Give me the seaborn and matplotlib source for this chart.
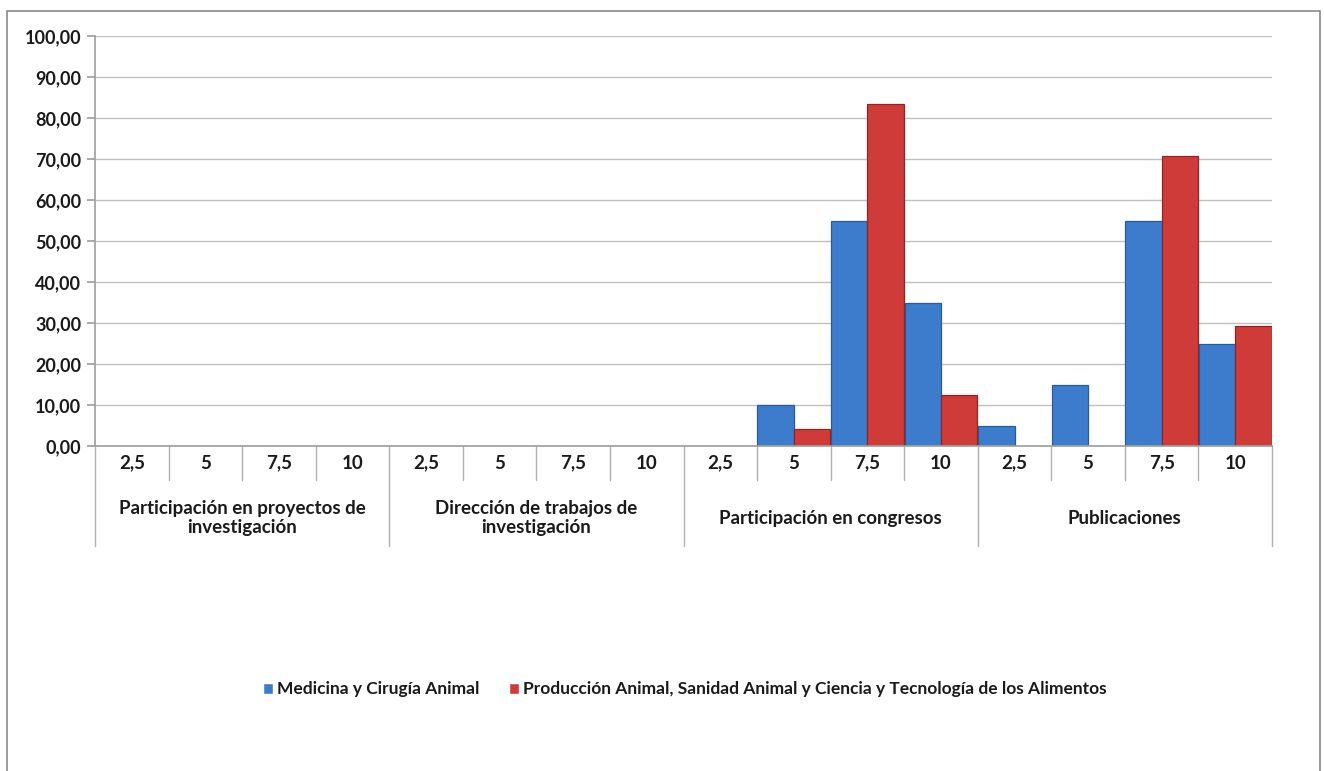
import numpy as np
import pandas as pd
import seaborn as sns
import matplotlib.pyplot as plt
from matplotlib.patches import Rectangle
from matplotlib.transforms import blended_transform_factory

# Data
groups = ["Participación en proyectos de\ninvestigación",
          "Dirección de trabajos de\ninvestigación",
          "Participación en congresos",
          "Publicaciones"]
scores = ["2,5", "5", "7,5", "10"]
series = ["Medicina y Cirugía Animal",
          "Producción Animal, Sanidad Animal y Ciencia y Tecnología de los Alimentos"]
medicina = [0, 0, 0, 0,  0, 0, 0, 0,  0, 10, 55, 35,  5, 15, 55, 25]
produccion = [0, 0, 0, 0,  0, 0, 0, 0,  0, 4.17, 83.33, 12.5,  0, 0, 70.83, 29.17]

slots = [f"{g}|{s}" for g in groups for s in scores]
df = pd.DataFrame({
    "slot": slots * 2,
    "serie": [series[0]] * len(slots) + [series[1]] * len(slots),
    "valor": medicina + produccion,
})

sns.set_theme(style="white")
plt.rcParams["font.family"] = ["Lato", "DejaVu Sans"]
plt.rcParams["font.weight"] = "bold"

fig = plt.figure(figsize=(13.24, 7.71), dpi=100)
ax = fig.add_axes([0.0718, 0.4215, 0.8889, 0.5318])

colors = ["#3d7ccc", "#cf3b39"]
sns.barplot(data=df, x="slot", y="valor", hue="serie", order=slots,
            hue_order=series, palette=colors, width=0.99, gap=0,
            saturation=1, ax=ax, legend=True)
edge = {colors[0]: "#2a5a99", colors[1]: "#8f2624"}
for cont, c in zip(ax.containers, colors):
    for bar in cont:
        bar.set_edgecolor(edge[c])
        bar.set_linewidth(0.9)
        if bar.get_height() == 0:
            bar.set_visible(False)

ax.set_ylim(0, 100)
ax.set_xlim(-0.5, len(slots) - 0.5)
ax.set_yticks(np.arange(0, 101, 10))
ax.set_yticklabels([f"{v:.2f}".replace(".", ",") for v in range(0, 101, 10)],
                   fontsize=13, fontweight="bold", color="#1a1a1a")
ax.yaxis.grid(True, color="#c0c0c0", linewidth=1)
ax.set_axisbelow(True)
ax.tick_params(axis="y", left=True, length=6, color="#a0a0a0", pad=4)
ax.set_xticks([])
ax.set_xlabel("")
ax.set_ylabel("")
for side in ["top", "right"]:
    ax.spines[side].set_visible(False)
for side in ["left", "bottom"]:
    ax.spines[side].set_color("#a0a0a0")

# Two-level category axis
tr = blended_transform_factory(ax.transData, ax.transAxes)
h = 410.0  # axes height in pixels
for i, s in enumerate(slots):
    ax.text(i, -17 / h, s.split("|")[1], transform=tr, ha="center", va="center",
            fontsize=13.5, fontweight="bold", color="#1a1a1a")
for gi, g in enumerate(groups):
    ax.text(gi * 4 + 1.5, -72 / h, g, transform=tr, ha="center", va="center",
            fontsize=13.5, fontweight="bold", color="#1a1a1a", linespacing=1.15)
for k in range(len(slots) + 1):
    x = k - 0.5
    bottom = -100 / h if k % 4 == 0 else -34 / h
    ax.plot([x, x], [0, bottom], transform=tr, color="#b0b0b0",
            linewidth=1, clip_on=False)

leg = ax.legend(loc="center", bbox_to_anchor=(0.517, 0.106),
                bbox_transform=fig.transFigure, ncol=2, frameon=False,
                fontsize=12.5, handlelength=0.6, handleheight=0.6,
                handletextpad=0.2, columnspacing=1.7)
for t in leg.get_texts():
    t.set_fontweight("bold")
    t.set_color("#1a1a1a")

fig.add_artist(Rectangle((0.0053, -0.02), 0.992, 1.006, transform=fig.transFigure,
                         fill=False, edgecolor="#8a8a8a", linewidth=1.2))

plt.savefig("out.png", dpi=100)
